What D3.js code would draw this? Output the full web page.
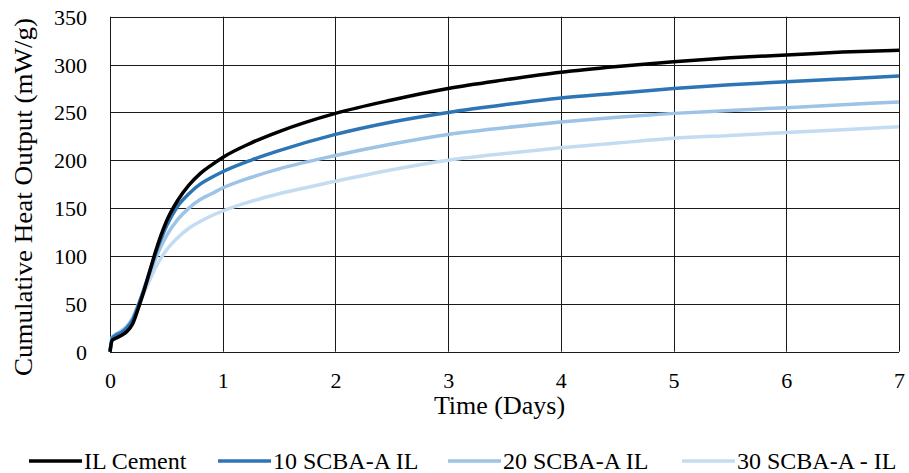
<!DOCTYPE html>
<html><head><meta charset="utf-8">
<script src="https://cdn.jsdelivr.net/npm/d3@7"></script>
<style>
html,body{margin:0;padding:0;background:#fff;}
svg{display:block;}
svg text{font-family:"Liberation Serif","DejaVu Serif","Times New Roman",serif !important;}
</style></head>
<body><svg id="chart" width="909" height="473"></svg>
<script>
const days = [0, 0.02, 0.05, 0.1, 0.15, 0.2, 0.25, 0.3, 0.35, 0.4, 0.5, 0.6, 0.7, 0.8, 0.9, 1, 1.25, 1.5, 2, 2.5, 3, 3.5, 4, 4.5, 5, 5.5, 6, 6.5, 7];
const ilCement = [0, 12, 14, 17, 21, 29, 45, 63, 83, 103, 136, 158, 174, 186, 195, 203, 218, 230, 249, 263, 275, 284, 292, 298, 303, 307, 310, 313, 315];
const scba10 = [0, 14, 17, 20, 25, 33, 48, 65, 83, 101, 131, 152, 165, 175, 182, 188, 200, 210, 227, 240, 250, 258, 265, 270, 275, 279, 282, 285, 288];
const scba20 = [0, 15, 18, 21, 26, 35, 49, 64, 80, 96, 121, 138, 150, 159, 165, 171, 182, 191, 205, 217, 227, 234, 240, 245, 249, 252, 255, 258, 261];
const scba30 = [0, 15, 18, 22, 27, 35, 48, 61, 74, 87, 106, 119, 129, 136, 142, 147, 157, 165, 178, 190, 200, 207, 213, 218, 223, 226, 229, 232, 235];
const seriesNames = ["IL Cement", "10 SCBA-A IL", "20 SCBA-A IL", "30 SCBA-A - IL"];
const seriesColors = ["#000000", "#2E75B6", "#9DC3E6", "#C4DCF1"];
const xTicks = [0, 1, 2, 3, 4, 5, 6, 7];
const yTicks = [0, 50, 100, 150, 200, 250, 300, 350];
const xTitle = "Time (Days)";
const yTitle = "Cumulative Heat Output (mW/g)";

const allSeries = [ilCement, scba10, scba20, scba30];
const svg = d3.select("#chart");
const L = 110, R = 899, T = 16.7, B = 351.7;
const x = d3.scaleLinear().domain([0, 7]).range([L, R]);
const y = d3.scaleLinear().domain([0, 350]).range([B, T]);

// grid
const grid = svg.append("g");
grid.selectAll("line.h").data(yTicks).enter().append("line")
  .attr("x1", L).attr("x2", R)
  .attr("y1", d => Math.round(y(d)) + 0.5).attr("y2", d => Math.round(y(d)) + 0.5)
  .attr("stroke", "#1a1a1a").attr("stroke-width", 1);
grid.selectAll("line.v").data(xTicks).enter().append("line")
  .attr("y1", T).attr("y2", B)
  .attr("x1", d => Math.round(x(d)) + 0.5).attr("x2", d => Math.round(x(d)) + 0.5)
  .attr("stroke", "#1a1a1a").attr("stroke-width", 1);

// axes (labels only)
const yAxis = d3.axisLeft(y).tickValues(yTicks).tickSize(0).tickPadding(0).tickFormat(d3.format("d"));
const ya = svg.append("g").attr("transform", `translate(87,0)`).call(yAxis);
ya.attr("font-family", null);
ya.select(".domain").remove();
ya.selectAll("text").attr("font-size", 22).attr("fill", "#000").attr("dy", "0.34em");

const xAxis = d3.axisBottom(x).tickValues(xTicks).tickSize(0).tickPadding(0).tickFormat(d3.format("d"));
const xa = svg.append("g").attr("transform", `translate(0,${B})`).call(xAxis);
xa.attr("font-family", null);
xa.select(".domain").remove();
xa.selectAll("text").attr("font-size", 22).attr("fill", "#000").attr("dy", null).attr("y", 36);

// titles
svg.append("text").attr("x", (L + R) / 2 - 5).attr("y", 414).attr("text-anchor", "middle")
  .attr("font-size", 26).text(xTitle);
svg.append("text").attr("transform", "translate(32,197) rotate(-90)").attr("text-anchor", "middle")
  .attr("font-size", 26).attr("textLength", 358).attr("lengthAdjust", "spacingAndGlyphs").text(yTitle);

// lines
const line = d3.line().x(d => x(d[0])).y(d => y(d[1])).curve(d3.curveMonotoneX);
for (let i = allSeries.length - 1; i >= 0; i--) {
  const pts = days.map((t, j) => [t, allSeries[i][j]]);
  svg.append("path").datum(pts).attr("d", line).attr("fill", "none")
    .attr("stroke", seriesColors[i]).attr("stroke-width", 3.5).attr("stroke-linejoin", "round");
}

// legend
const legX = [29, 218, 448, 682];
const lg = svg.append("g");
seriesNames.forEach((n, i) => {
  lg.append("line").attr("x1", legX[i]).attr("x2", legX[i] + 53).attr("y1", 461).attr("y2", 461)
    .attr("stroke", seriesColors[i]).attr("stroke-width", 3.5);
  lg.append("text").attr("x", legX[i] + 55).attr("y", 469).attr("font-size", 24).text(n);
});
</script></body></html>
